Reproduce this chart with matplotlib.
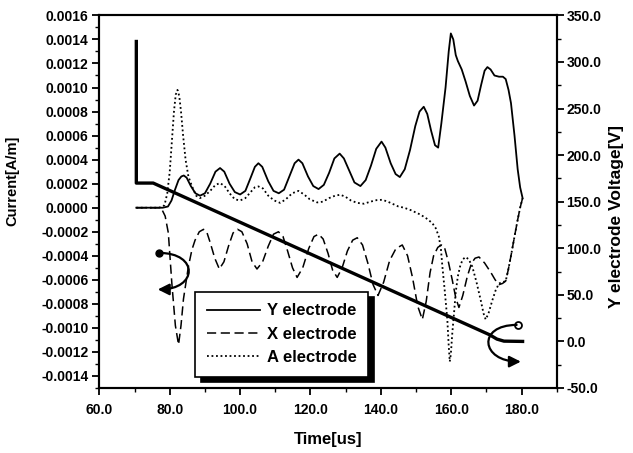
import matplotlib
matplotlib.use('Agg')
import matplotlib.pyplot as plt
from matplotlib.ticker import MultipleLocator, FormatStrFormatter
from matplotlib.patches import FancyArrowPatch
from matplotlib.path import Path
from matplotlib.transforms import IdentityTransform

plt.rcParams['font.family'] = 'Liberation Sans'
plt.rcParams['font.weight'] = 'bold'

# (time [us], current [A/m])
y_elec = [(70.5, 0), (78, 0), (79.5, 0.00001), (80.5, 0.00006), (81.5, 0.00015),
          (82.5, 0.00023), (83.3, 0.00026), (84, 0.000268), (84.8, 0.00025), (86, 0.00018),
          (87.3, 0.00012), (88.6, 0.0001), (90, 0.00012), (91.5, 0.0002), (93, 0.0003),
          (94.3, 0.00033), (95.5, 0.0003), (97, 0.0002), (98.5, 0.00013), (100, 0.00011),
          (101.5, 0.00014), (103, 0.00025), (104.2, 0.00034), (105.2, 0.00037),
          (106.3, 0.00034), (108, 0.00022), (109.5, 0.00014), (111, 0.00012),
          (112.5, 0.00015), (114, 0.00026), (115.5, 0.00037), (116.6, 0.0004),
          (117.7, 0.00037), (119.3, 0.00026), (120.8, 0.00018), (122.3, 0.000155),
          (123.8, 0.00019), (125.3, 0.00029), (126.8, 0.00041), (128.3, 0.00045),
          (129.5, 0.00041), (131, 0.00031), (132.5, 0.00021), (134.2, 0.00018),
          (135.7, 0.00023), (137.2, 0.00035), (138.7, 0.00049), (140.2, 0.00055),
          (141.3, 0.0005), (142.8, 0.00037), (144.2, 0.00028), (145.4, 0.000255),
          (146.8, 0.00032), (148.3, 0.00048), (149.8, 0.00068), (151, 0.0008),
          (152.2, 0.00084), (153.2, 0.00078), (154.3, 0.00064), (155.4, 0.00052),
          (156.3, 0.0005), (157.2, 0.0007), (158.4, 0.001), (159.3, 0.0013),
          (159.9, 0.00145), (160.6, 0.0014), (161.3, 0.00127), (161.9, 0.00122),
          (163, 0.00115), (164.1, 0.00105), (165.3, 0.00093), (166.5, 0.00085),
          (167.5, 0.00089), (168.5, 0.00102), (169.5, 0.00114), (170.3, 0.00117),
          (171.2, 0.00115), (172.3, 0.0011), (173.6, 0.00109), (174.7, 0.00109),
          (175.5, 0.00107), (176.3, 0.00098), (177, 0.00087), (178, 0.0006),
          (178.9, 0.00032), (179.6, 0.00017), (180.3, 0.00008)]

x_elec = [(70.5, 0), (77, 0), (77.7, -0.00001), (78.7, -0.00007), (79.6, -0.00021),
          (80.6, -0.00063), (81.6, -0.00098), (82.5, -0.00114), (83.2, -0.00098),
          (83.9, -0.00076), (85.3, -0.00049), (86.3, -0.00035), (87.2, -0.00027),
          (88.4, -0.0002), (89.6, -0.00018), (90.5, -0.0002), (91.5, -0.00029),
          (92.8, -0.00042), (94.1, -0.00051), (95.4, -0.00045), (96.7, -0.00032),
          (98, -0.00021), (99.3, -0.00018), (100.5, -0.0002), (102, -0.0003),
          (103.4, -0.00045), (104.8, -0.00051), (106.4, -0.00045), (108, -0.00032),
          (109.5, -0.00022), (110.9, -0.0002), (112.2, -0.00024), (113.5, -0.00036),
          (114.9, -0.0005), (116.2, -0.00058), (117.8, -0.0005), (119.5, -0.00034),
          (121, -0.00024), (122.3, -0.00022), (123.6, -0.00026), (125, -0.00038),
          (126.3, -0.00052), (127.6, -0.00058), (129, -0.0005), (130.5, -0.00036),
          (132, -0.00027), (133.3, -0.00025), (134.8, -0.00031), (136.3, -0.00046),
          (137.8, -0.00064), (139.2, -0.00073), (140.8, -0.00062), (142.5, -0.00044),
          (144.3, -0.00034), (146.1, -0.00031), (147.6, -0.0004), (149, -0.00058),
          (150.5, -0.00082), (151.8, -0.00093), (152.9, -0.00078), (154, -0.00054),
          (155, -0.0004), (156.2, -0.00033), (157.2, -0.00031), (158, -0.00032),
          (159.2, -0.00045), (160.3, -0.0006), (161.3, -0.00075), (162.2, -0.00083),
          (163.3, -0.00073), (164.6, -0.00057), (165.8, -0.00046), (166.8, -0.00042),
          (167.9, -0.00041), (169.5, -0.00046), (171.3, -0.00054), (172.5, -0.0006),
          (173.6, -0.00064), (174.6, -0.00063), (175.5, -0.00061), (176.2, -0.00052),
          (177, -0.0004), (178, -0.00024), (178.9, -0.0001), (179.6, 0), (180.3, 0.00008)]

a_elec = [(70.5, 0), (77, 0), (78.5, 0.00002), (79.3, 0.00012), (80, 0.0003),
          (80.6, 0.00055), (81.2, 0.0008), (81.7, 0.00094), (82.2, 0.00098),
          (82.7, 0.00093), (83.2, 0.0008), (83.8, 0.0006), (84.5, 0.0004),
          (85.3, 0.00026), (86.3, 0.00018), (87.5, 0.0001), (88.6, 0.00008),
          (90, 0.0001), (91.5, 0.00014), (93, 0.00019), (94.3, 0.000205),
          (95.6, 0.00018), (97, 0.00012), (98.5, 0.00007), (100, 0.00006),
          (101.5, 0.00008), (103, 0.00013), (104.2, 0.00017), (105.2, 0.000177),
          (106.5, 0.00016), (108, 0.0001), (109.7, 0.00006), (111.4, 0.00004),
          (113, 0.00007), (114.8, 0.00012), (116.6, 0.00014), (118.2, 0.00011),
          (119.8, 0.00007), (121.9, 0.000044), (123.5, 0.00005), (125.3, 0.00008),
          (127, 0.0001), (128.5, 0.000108), (130, 0.00009), (131.5, 0.00006),
          (133.3, 0.00004), (135.2, 0.000033), (137, 0.00005), (138.8, 0.000063),
          (140.4, 0.000066), (142, 0.00005), (143.5, 0.00003), (145, 0.00001),
          (146.6, 0.0), (148.5, -0.00002), (151.3, -0.000058), (153, -0.00009),
          (154.6, -0.000127), (155.6, -0.00017), (156.5, -0.00024), (157.1, -0.00035),
          (157.5, -0.00049), (158.2, -0.0007), (158.9, -0.00093), (159.3, -0.00115),
          (159.6, -0.00128), (159.9, -0.00122), (160.3, -0.00105), (160.8, -0.00088),
          (161.3, -0.0007), (161.9, -0.00057), (162.6, -0.00048), (163.3, -0.00043),
          (164.1, -0.00041), (165, -0.00043), (166, -0.00049), (167.2, -0.00062),
          (168.4, -0.00077), (169.2, -0.00088), (169.8, -0.00093), (170.6, -0.00088),
          (171.7, -0.00077), (172.6, -0.00069), (173.6, -0.00063), (174.6, -0.00062),
          (175.5, -0.00061), (176.2, -0.00052), (177, -0.0004), (178, -0.00024),
          (178.9, -0.0001), (179.6, 0), (180.3, 0.00008)]

# (time [us], Y electrode voltage [V])
y_volt = [(70.5, 322), (70.5, 170), (75.3, 170), (171, 7), (173, 2.5), (175, 0.3),
          (180.3, 0)]

labels = ['Y electrode', 'X electrode', 'A electrode']

fig = plt.figure(figsize=(6.33, 4.53), dpi=100)
ax = fig.add_axes([0.157, 0.1435, 0.7225, 0.8225])
ax2 = ax.twinx()

t, i = zip(*y_elec)
l_y, = ax.plot(t, i, 'k-', lw=1.3)
t, i = zip(*x_elec)
l_x, = ax.plot(t, i, color='k', ls=(0, (6, 3)), lw=1.1)
t, i = zip(*a_elec)
l_a, = ax.plot(t, i, color='k', ls=(0, (1, 1.5)), lw=1.3)
t, v = zip(*y_volt)
ax2.plot(t, v, 'k-', lw=2.4, solid_joinstyle='round')

ax.set_xlim(60, 190)
ax.set_ylim(-0.0015, 0.0016)
ax2.set_ylim(-50, 350)

ax.xaxis.set_major_locator(MultipleLocator(20))
ax.xaxis.set_minor_locator(MultipleLocator(10))
ax.xaxis.set_major_formatter(FormatStrFormatter('%.1f'))
ax.yaxis.set_major_locator(MultipleLocator(0.0002))
ax.yaxis.set_minor_locator(MultipleLocator(0.0001))
ax.yaxis.set_major_formatter(FormatStrFormatter('%.4f'))
ax2.yaxis.set_major_locator(MultipleLocator(50))
ax2.yaxis.set_minor_locator(MultipleLocator(25))
ax2.yaxis.set_major_formatter(FormatStrFormatter('%.1f'))

for a in (ax, ax2):
    a.tick_params(which='major', length=5, width=1.3, labelsize=10, direction='out')
    a.tick_params(which='minor', length=3, width=1.0, direction='out')
    for s in a.spines.values():
        s.set_linewidth(1.5)
ax.tick_params(axis='y', pad=3)
ax.tick_params(axis='x', pad=6)
ax2.tick_params(axis='y', pad=2)

ax.set_xlabel('Time[us]', fontsize=12, fontweight='bold')
ax.xaxis.set_label_coords(0.5, -0.117)
ax.set_ylabel('Current[A/m]', fontsize=10.5, fontweight='bold')
ax.yaxis.set_label_coords(-0.174, 0.555)
ax2.set_ylabel('Y electrode Voltage[V]', fontsize=12.5, fontweight='bold', rotation=90)
ax2.yaxis.set_label_coords(1.115, 0.46)


# curled arrow pointing to the axis a curve belongs to (drawn in pixels)
def curl(axis, start, tip, h):
    x0, y0 = axis.transData.transform(start)
    x1, y1 = axis.transData.transform(tip)
    verts = [(x0, y0), (x0 + h, y0), (x1 + h, y1), (x1, y1)]
    codes = [Path.MOVETO, Path.CURVE4, Path.CURVE4, Path.CURVE4]
    arr = FancyArrowPatch(path=Path(verts, codes), arrowstyle='-|>', mutation_scale=17,
                          lw=1.6, color='k', transform=IdentityTransform())
    fig.add_artist(arr)


ax.plot([77], [-0.000376], 'ko', ms=5)
curl(ax, (77, -0.000376), (76.6, -0.00068), 40)
ax2.plot([178.9], [17.7], 'o', mfc='white', mec='k', ms=5, mew=1.3)
curl(ax2, (178.6, 17.7), (179.8, -21.7), -40)

leg = ax2.legend([l_y, l_x, l_a], labels,
                 loc='lower left', bbox_to_anchor=(0.209, 0.03), fancybox=False,
                 shadow={'ox': 4, 'oy': -4, 'color': 'k', 'alpha': 1},
                 edgecolor='k', framealpha=1, fontsize=12, handlelength=3.2,
                 labelspacing=0.5, borderpad=0.7, handletextpad=0.4, borderaxespad=0)
leg.get_frame().set_linewidth(1.2)

fig.savefig('out.png', dpi=100)
